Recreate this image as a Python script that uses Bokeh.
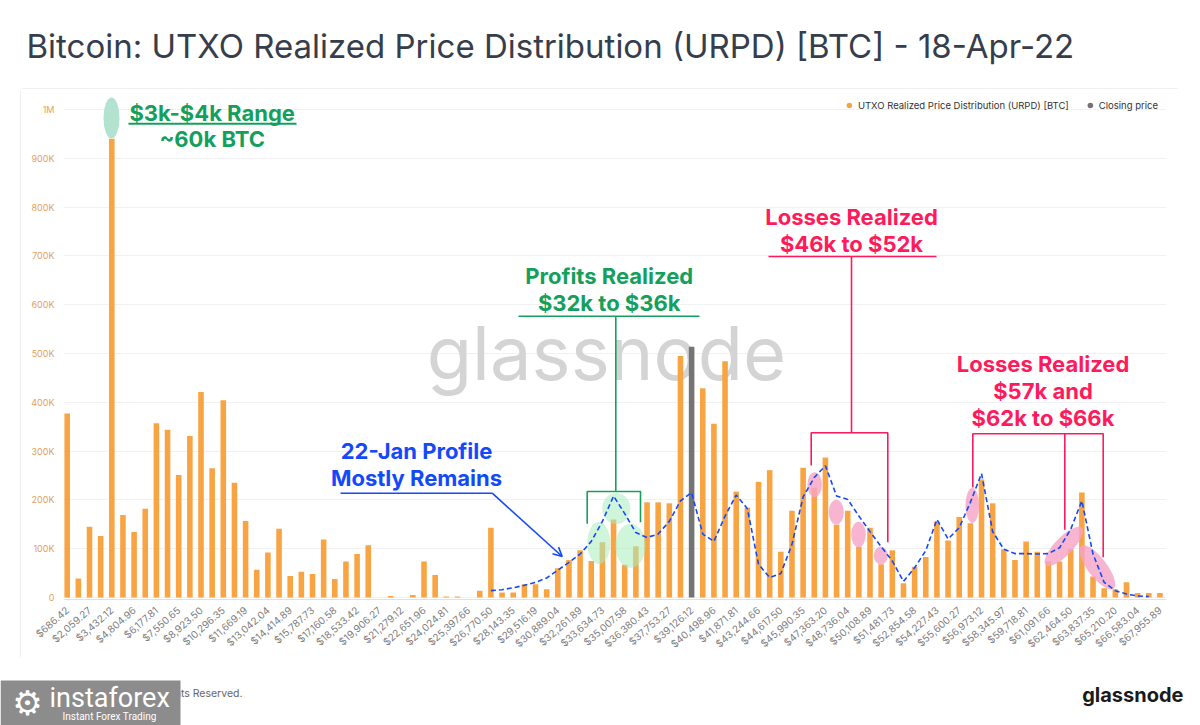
from bokeh.plotting import figure
from bokeh.models import (Range1d, FixedTicker, Label, Legend, LegendItem, Arrow,
                          OpenHead, ColumnDataSource, Spacer)
from bokeh.layouts import column, row
from bokeh.core.properties import value
from bokeh.embed import file_html
from bokeh.resources import INLINE

# ---------------- data ----------------
# URPD buckets (bucket index 1..99), one tick label on every other bucket
bucket_ids = list(range(1, 100))
tick_buckets = list(range(1, 100, 2))
tick_labels = [
    "$686.42", "$2,059.27", "$3,432.12", "$4,804.96", "$6,177.81", "$7,550.65",
    "$8,923.50", "$10,296.35", "$11,669.19", "$13,042.04", "$14,414.89", "$15,787.73",
    "$17,160.58", "$18,533.42", "$19,906.27", "$21,279.12", "$22,651.96", "$24,024.81",
    "$25,397.66", "$26,770.50", "$28,143.35", "$29,516.19", "$30,889.04", "$32,261.89",
    "$33,634.73", "$35,007.58", "$36,380.43", "$37,753.27", "$39,126.12", "$40,498.96",
    "$41,871.81", "$43,244.66", "$44,617.50", "$45,990.35", "$47,363.20", "$48,736.04",
    "$50,108.89", "$51,481.73", "$52,854.58", "$54,227.43", "$55,600.27", "$56,973.12",
    "$58,345.97", "$59,718.81", "$61,091.66", "$62,464.50", "$63,837.35", "$65,210.20",
    "$66,583.04", "$67,955.89",
]
# UTXO Realized Price Distribution [BTC] per bucket
urpd_btc = [
    377000, 39000, 145000, 126000, 940000, 169000, 134000, 182000, 357000, 344000,
    251000, 331000, 421000, 265000, 404000, 235000, 157000, 57000, 92000, 141000,
    44000, 53000, 48000, 119000, 38000, 74000, 89000, 107000, 0, 3000,
    0, 5000, 74000, 46000, 2000, 2000, 0, 14000, 143000, 10000,
    10000, 27000, 27000, 17000, 60000, 77000, 97000, 75000, 113000, 160000,
    67000, 105000, 195000, 195000, 193000, 495000, 0, 429000, 356000, 484000,
    217000, 184000, 237000, 261000, 94000, 178000, 266000, 225000, 287000, 149000,
    178000, 104000, 143000, 68000, 97000, 29000, 63000, 83000, 155000, 117000,
    165000, 152000, 242000, 193000, 99000, 77000, 115000, 94000, 74000, 74000,
    99000, 215000, 43000, 19000, 17000, 31000, 9000, 9000, 9000,
]
# closing price bucket
closing_bucket = [57]
closing_btc = [514000]
# 22-Jan profile (dashed overlay)
profile_bucket = list(range(39, 99))
profile_btc = [
    14000, 16000, 20000, 25000, 31000, 40000, 56000, 72000, 89000, 115000,
    156000, 208000, 172000, 133000, 123000, 130000, 156000, 198000, 215000, 130000,
    115000, 167000, 210000, 182000, 68000, 41000, 49000, 109000, 206000, 246000,
    270000, 208000, 201000, 167000, 135000, 104000, 75000, 33000, 61000, 96000,
    160000, 120000, 143000, 195000, 254000, 135000, 99000, 90000, 90000, 89000,
    90000, 102000, 140000, 198000, 89000, 31000, 14000, 7000, 3000, 2000,
]
ytick_values = [0, 100000, 200000, 300000, 400000, 500000, 600000, 700000, 800000, 900000, 1000000]
ytick_labels = ["0", "100K", "200K", "300K", "400K", "500K", "600K", "700K", "800K", "900K", "1M"]

# ---------------- layout (page pixel coordinates) ----------------
PAGE_W, PAGE_H = 1200, 725
PL, PR, PT, PB = 20, 1180, 88, 660       # chart panel
FL, FR, FT, FB = 63, 1166, 90, 599       # plot frame
x0, x1 = 0.668, 99.59
y0, y1 = -4100, 1039000


def X(px):
    return x0 + (px - FL) / (FR - FL) * (x1 - x0)


def Y(py):
    return y0 + (FB - py) / (FB - FT) * (y1 - y0)


ORANGE = "#f8a443"
GRAY = "#747474"
GREEN = "#14a05c"
RED = "#ff1a5c"
BLUE = "#1449fa"
FONT = "Inter"


def blank(w, h, ytop, ybot):
    f = figure(width=w, height=h, x_range=Range1d(0, w), y_range=Range1d(ybot, ytop),
               x_axis_type=None, y_axis_type=None, min_border=0,
               output_backend="svg", toolbar_location=None)
    f.title = None
    f.outline_line_color = None
    f.xgrid.visible = False
    f.ygrid.visible = False
    return f

# ---------------- header ----------------
head = blank(PAGE_W, PT, 0, PT)
head.add_layout(Label(x=26, y=45, text="Bitcoin: UTXO Realized Price Distribution (URPD) [BTC] - 18-Apr-22",
                      text_align="left", text_baseline="middle", text_font=FONT,
                      text_font_size="33px", text_color="#363d4b"))

# ---------------- main chart ----------------
p = figure(width=PR - PL, height=PB - PT, x_range=Range1d(x0, x1), y_range=Range1d(y0, y1),
           min_border_left=FL - PL, min_border_right=PR - FR,
           min_border_top=FT - PT, min_border_bottom=PB - FB,
           output_backend="svg", toolbar_location=None,
           styles={"outline": "1px solid #e8e8e8", "outline-offset": "-1px", "border-radius": "4px"})
p.title = None
p.outline_line_color = None
p.background_fill_color = "white"
p.border_fill_color = "white"
p.xgrid.visible = False
p.ygrid.grid_line_color = "#f1f1f1"

p.yaxis.ticker = FixedTicker(ticks=ytick_values, minor_ticks=[])
p.yaxis.major_label_overrides = dict(zip(ytick_values, ytick_labels))
p.yaxis.axis_line_color = None
p.yaxis.major_tick_line_color = None
p.yaxis.minor_tick_line_color = None
p.yaxis.major_label_text_color = "#e3a060"
p.yaxis.major_label_text_font = FONT
p.yaxis.major_label_text_font_size = "9px"
p.yaxis.major_label_standoff = 3

p.xaxis.ticker = FixedTicker(ticks=tick_buckets, minor_ticks=[])
p.xaxis.major_label_overrides = dict(zip(tick_buckets, tick_labels))
p.xaxis.major_label_orientation = 0.72
p.xaxis.axis_line_color = "#dbe2ee"
p.xaxis.major_tick_line_color = None
p.xaxis.minor_tick_line_color = None
p.xaxis.major_label_text_color = "#808080"
p.xaxis.major_label_text_font = FONT
p.xaxis.major_label_text_font_size = "10px"
p.xaxis.major_label_standoff = 3

# watermark (behind bars)
p.add_layout(Label(x=X(606), y=Y(352), text="glassnode", text_align="center",
                   text_baseline="middle", text_font=FONT, text_font_size="74px",
                   text_color="#d4d4d4", level="underlay"))

# bars
src = ColumnDataSource(dict(x=bucket_ids, top=urpd_btc))
p.vbar(x="x", top="top", width=0.5, source=src, fill_color=ORANGE, line_color=None)
p.vbar(x=closing_bucket, top=closing_btc, width=0.5, fill_color=GRAY, line_color=None)


def ell(cx, cy, w, h, color, alpha, angle=0.0):
    p.ellipse(x=[X(cx)], y=[Y(cy)], width=[w], height=[h], angle=angle,
              width_units="screen", height_units="screen",
              fill_color=color, fill_alpha=alpha, line_color=None)


ell(111, 117.5, 16, 41, "#b3e3d0", 1.0)
ell(598.3, 542.5, 23, 42, "#a8ecbd", 0.55)
ell(630, 545.3, 30, 44, "#a8ecbd", 0.55)
ell(615.8, 508, 28, 31, "#a8ecbd", 0.55)
PINK = "#f5a3c6"
ell(814.2, 484.2, 14.5, 25, PINK, 0.8)
ell(835.8, 511.7, 15, 25, PINK, 0.8)
ell(858, 534, 14.7, 25.7, PINK, 0.8)
ell(880.3, 555, 14, 18, PINK, 0.8)
ell(971.8, 505, 13.7, 35, PINK, 0.8)
ell(1063.3, 545.8, 52, 18, PINK, 0.8, angle=0.80)
ell(1096.7, 566.7, 54, 19, PINK, 0.8, angle=-0.92)

# 22-Jan profile (dashed)
p.line(x=profile_bucket, y=profile_btc, line_color=BLUE, line_width=1.6, line_dash="5 3")

# legend (marker renderers placed outside the visible range)
r1 = p.scatter(x=[-50], y=[0], size=7, fill_color=ORANGE, line_color=None)
r2 = p.scatter(x=[-50], y=[0], size=7, fill_color=GRAY, line_color=None)
legend = Legend(items=[LegendItem(label="UTXO Realized Price Distribution (URPD) [BTC]", renderers=[r1]),
                       LegendItem(label="Closing price", renderers=[r2])],
                orientation="horizontal", location="top_right",
                margin=8, padding=2, spacing=12, glyph_width=18, glyph_height=14,
                label_standoff=0, label_height=14,
                label_text_font=FONT, label_text_font_size="9.5px",
                label_text_color="#333333", border_line_color=None,
                background_fill_alpha=0)
p.add_layout(legend)


def seg(xs, ys, color, w=1.6):
    p.line(x=[X(v) for v in xs], y=[Y(v) for v in ys], line_color=color, line_width=w)


seg([128, 296], [123.3, 123.3], GREEN, 2)
seg([518, 699], [315.7, 315.7], GREEN)
seg([615.3, 615.3], [315.7, 491], GREEN)
seg([586.7, 586.7, 640, 640], [523.3, 491, 491, 521.7], GREEN)
seg([768, 936], [256, 256], RED)
seg([851, 851], [256, 432.3], RED)
seg([810.7, 810.7, 887.3, 887.3], [465, 432.3, 432.3, 541.7], RED)
seg([972.3, 972.3, 1102.7, 1102.7], [486.7, 433.3, 433.3, 556.7], RED)
seg([1064.3, 1064.3], [433.3, 529.3], RED)
seg([340, 491.7], [492.7, 492.7], BLUE)
p.add_layout(Arrow(end=OpenHead(size=9, line_color=BLUE, line_width=1.6),
                   x_start=X(491.7), y_start=Y(492.7), x_end=X(561.7), y_end=Y(556),
                   line_color=BLUE, line_width=1.6))


def txt(px, py, s, color, size="22px"):
    p.add_layout(Label(x=X(px), y=Y(py), text=s, text_align="center", text_baseline="middle",
                       text_font=FONT, text_font_size=size, text_font_style="bold",
                       text_color=color))


txt(211.7, 112.5, "$3k-$4k Range", GREEN)
txt(211.7, 138, "~60k BTC", GREEN)
txt(608.7, 275, "Profits Realized", GREEN)
txt(608.7, 302.5, "$32k to $36k", GREEN)
txt(851, 216.5, "Losses Realized", RED)
txt(851, 243.5, "$46k to $52k", RED)
txt(1042.5, 363.5, "Losses Realized", RED)
txt(1042.5, 390.5, "$57k and", RED)
txt(1042.5, 417.5, "$62k to $66k", RED)
txt(416, 450.5, "22-Jan Profile", BLUE)
txt(416, 477, "Mostly Remains", BLUE)

# ---------------- footer ----------------
foot = blank(PAGE_W, PAGE_H - PB, PB, PAGE_H)
foot.text(x=[242], y=[693], text=["\u00a9 2022 Glassnode. All Rights Reserved."],
          text_align="right", text_baseline="middle", text_font=value(FONT),
          text_font_size="10.5px", text_color="#666666")
foot.quad(left=[0], right=[180], top=[680], bottom=[725], fill_color="#8c8c8c", line_color=None)
foot.text(x=[27], y=[702], text=["\u2699"], text_align="center", text_baseline="middle",
          text_font=value("DejaVu Sans"), text_font_size="34px", text_color="white")
foot.text(x=[49], y=[697], text=["instaforex"], text_align="left", text_baseline="middle",
          text_font=value("Roboto"), text_font_size="27px", text_color="white")
foot.text(x=[62], y=[716], text=["Instant Forex Trading"], text_align="left", text_baseline="middle",
          text_font=value("Roboto"), text_font_size="10px", text_color="white")
foot.text(x=[1183], y=[694], text=["glassnode"], text_align="right", text_baseline="middle",
          text_font=value(FONT), text_font_size="20px", text_font_style="bold", text_color="#1a1a1a")

layout = column(head, row(Spacer(width=PL, height=PB - PT), p), foot)
open("out.html", "w").write(file_html(layout, INLINE))
